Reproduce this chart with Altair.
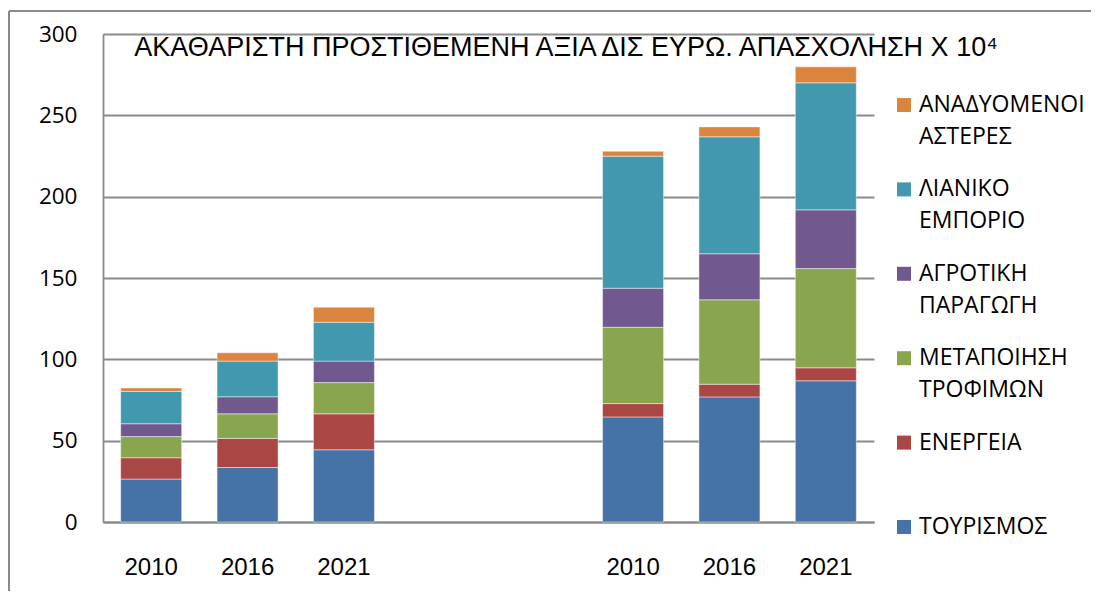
import altair as alt
import pandas as pd

title_text = "ΑΚΑΘΑΡΙΣΤΗ ΠΡΟΣΤΙΘΕΜΕΝΗ ΑΞΙΑ ΔΙΣ ΕΥΡΩ. ΑΠΑΣΧΟΛΗΣΗ Χ 10⁴"

# stacking order, bottom -> top
series = ["ΤΟΥΡΙΣΜΟΣ", "ΕΝΕΡΓΕΙΑ", "ΜΕΤΑΠΟΙΗΣΗ ΤΡΟΦΙΜΩΝ",
          "ΑΓΡΟΤΙΚΗ ΠΑΡΑΓΩΓΗ", "ΛΙΑΝΙΚΟ ΕΜΠΟΡΙΟ", "ΑΝΑΔΥΟΜΕΝΟΙ ΑΣΤΕΡΕΣ"]
legend_line1 = ["ΤΟΥΡΙΣΜΟΣ", "ΕΝΕΡΓΕΙΑ", "ΜΕΤΑΠΟΙΗΣΗ",
                "ΑΓΡΟΤΙΚΗ", "ΛΙΑΝΙΚΟ", "ΑΝΑΔΥΟΜΕΝΟΙ"]
legend_line2 = ["", "", "ΤΡΟΦΙΜΩΝ", "ΠΑΡΑΓΩΓΗ", "ΕΜΠΟΡΙΟ", "ΑΣΤΕΡΕΣ"]
colors = ["#4572A7", "#AA4643", "#89A54E", "#71588F", "#4198AF", "#DB843D"]

years = ["2010", "2016", "2021"]
groups = ["ΑΠΑ", "ΑΠΑΣΧ"]

# group 1: gross value added (bn EUR)
tour_gva = [26.4, 33.5, 44.4]
ener_gva = [13.1, 17.9, 22.1]
food_gva = [13.0, 15.1, 19.2]
agri_gva = [7.9, 10.5, 13.2]
retail_gva = [19.9, 21.9, 23.9]
stars_gva = [2.1, 5.1, 9.2]

# group 2: employment (x 10^4)
tour_emp = [64.6, 76.9, 86.8]
ener_emp = [8.2, 7.8, 8.0]
food_emp = [46.9, 51.9, 61.0]
agri_emp = [24.0, 28.3, 36.1]
retail_emp = [81.2, 71.9, 78.1]
stars_emp = [3.0, 6.1, 9.8]

group_values = {
    "ΑΠΑ": [tour_gva, ener_gva, food_gva, agri_gva, retail_gva, stars_gva],
    "ΑΠΑΣΧ": [tour_emp, ener_emp, food_emp, agri_emp, retail_emp, stars_emp],
}

slot_domain = ([f"{groups[0]}|{y}" for y in years] + ["gap1", "gap2"]
               + [f"{groups[1]}|{y}" for y in years])

rows = []
for g in groups:
    for si, s in enumerate(series):
        for yi, y in enumerate(years):
            rows.append({"slot": f"{g}|{y}", "series": s,
                         "value": group_values[g][si][yi], "order": si})
df = pd.DataFrame(rows)

legend_df = pd.DataFrame({"series": series, "l1": legend_line1, "l2": legend_line2})
legend_order = list(reversed(series))

color_scale = alt.Scale(domain=series, range=colors)
GRAY = "#8a8a8a"

bars = alt.Chart(df).mark_bar(stroke="white", strokeWidth=1, strokeOpacity=0.45).encode(
    x=alt.X("slot:N",
            scale=alt.Scale(domain=slot_domain, paddingInner=0.367, paddingOuter=0.1835),
            axis=alt.Axis(title=None, labelAngle=0, ticks=False, grid=False,
                          labelExpr="indexof(datum.value, '|') >= 0 ? split(datum.value, '|')[1] : ''",
                          domainColor=GRAY, domainWidth=1.8,
                          labelFont="Liberation Sans", labelFontSize=24,
                          labelColor="#000000", labelPadding=33)),
    y=alt.Y("value:Q", stack="zero",
            scale=alt.Scale(domain=[0, 300], nice=False),
            axis=alt.Axis(title=None, values=[0, 50, 100, 150, 200, 250, 300],
                          ticks=False, grid=True, gridColor=GRAY, gridWidth=1.8,
                          domainColor=GRAY, domainWidth=1.8,
                          labelFont="Open Sans", labelFontSize=22.5,
                          labelColor="#000000", labelPadding=26)),
    color=alt.Color("series:N", scale=color_scale, legend=None),
    order=alt.Order("order:Q", sort="ascending"),
)

leg_y = alt.Y("series:N", scale=alt.Scale(type="point", domain=legend_order,
                                          range=[71, 493], padding=0), axis=None)

leg_sq = alt.Chart(legend_df).mark_square(size=196, opacity=1).encode(
    x=alt.value(801), y=leg_y,
    color=alt.Color("series:N", scale=color_scale, legend=None),
)
leg_t1 = alt.Chart(legend_df).mark_text(
    align="left", baseline="middle", font="Open Sans", fontSize=23, color="#000000"
).encode(x=alt.value(816), y=leg_y, text="l1:N")
leg_t2 = alt.Chart(legend_df).mark_text(
    align="left", baseline="middle", font="Open Sans", fontSize=23, color="#000000", dy=32
).encode(x=alt.value(816), y=leg_y, text="l2:N")

title_df = pd.DataFrame({"t": [title_text]})
title = alt.Chart(title_df).mark_text(
    align="center", baseline="middle", font="Liberation Sans", fontSize=27,
    color="#000000"
).encode(x=alt.value(463), y=alt.value(14), text="t:N")

frame_left = alt.Chart(title_df).mark_rule(color=GRAY, strokeWidth=2).encode(
    x=alt.value(-94), y=alt.value(-23), y2=alt.value(600))
frame_top = alt.Chart(title_df).mark_rule(color=GRAY, strokeWidth=2).encode(
    x=alt.value(-94), x2=alt.value(1100), y=alt.value(-23))

chart = alt.layer(
    frame_left, frame_top, bars, title, leg_sq, leg_t1, leg_t2
).resolve_scale(y="independent").properties(
    width=771, height=488,
    autosize=alt.AutoSizeParams(type="none"),
    padding={"left": 95, "top": 26, "right": 217, "bottom": 69},
    background="#ffffff",
).configure_view(strokeWidth=0)

chart.save("out.html", embed_options={"renderer": "svg", "actions": False})
